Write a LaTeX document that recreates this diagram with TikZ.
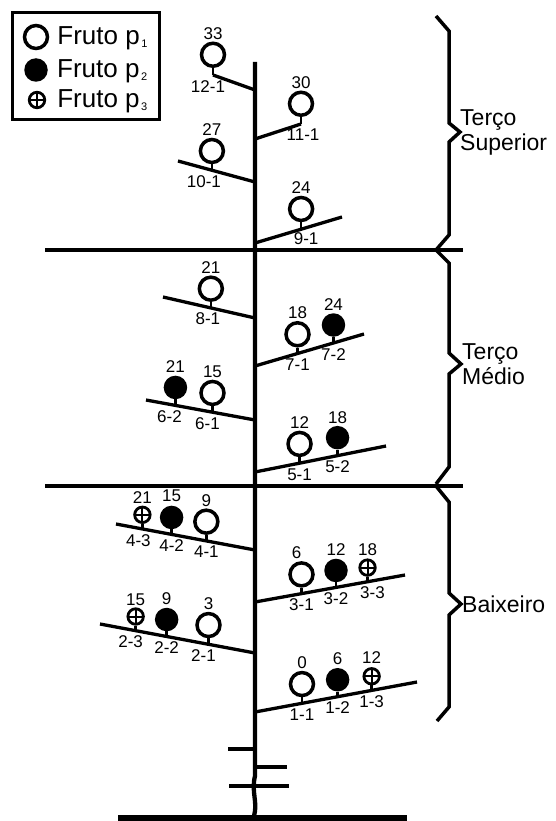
\documentclass[tikz,border=0pt]{standalone}
\usepackage{fontspec}
\setmainfont{Liberation Sans}
\usetikzlibrary{positioning, calc}
\newcommand{\lowsub}[1]{\hspace{1.5pt}\raisebox{-3pt}{\fontsize{11}{11}\selectfont #1}}
\tikzset{
  stem/.style={line width=4.3pt},
  branch/.style={line width=3.3pt},
  stalk/.style={line width=2.5pt},
  brace/.style={line width=3.5pt, line join=miter},
  pone/.style={
    circle,
    draw,
    line width=3.5pt,
    minimum size=23pt,
    inner sep=0pt
  },
  ptwo/.style={
    circle,
    fill,
    minimum size=23.5pt,
    inner sep=0pt
  },
  pthree/.style={
    circle,
    draw,
    line width=2.8pt,
    minimum size=15.5pt,
    inner sep=0pt,
    path picture={\draw[line width=2pt] (path picture bounding box.north) -- (path picture bounding box.south)
      (path picture bounding box.west) -- (path picture bounding box.east);}
  },
  num/.style={inner sep=0pt, font=\fontsize{17}{19}\selectfont},
  sect/.style={inner sep=0pt, align=left, font=\fontsize{23}{25}\selectfont},
  legtext/.style={inner sep=0pt, font=\fontsize{26}{28}\selectfont}
}

\begin{document}
\begin{tikzpicture}[x=1pt, y=-1pt]
        \useasboundingbox (0,0) rectangle (556,821);

        % legenda
        \node[draw, line width=3pt, minimum width=147pt, minimum height=107pt] (legend) at (86,66.5) {};
        \node[pone] (lg1) at (36,37) {};
        \node[ptwo] (lg2) at (36,70) {};
        \node[pthree] (lg3) at (37,100) {};
        \node[legtext, right=8pt of lg1, yshift=-1pt] {Fruto p\lowsub{1}};
        \node[legtext, right=9pt of lg2, yshift=-1pt] {Fruto p\lowsub{2}};
        \node[legtext, right=11pt of lg3, yshift=-1pt] {Fruto p\lowsub{3}};

        % planta
        \draw[stem] (255,62) -- (255,776) .. controls (251,792) and (258,802) .. (254,816);
        \draw[line width=6pt] (118,818) -- (407,818);
        \draw[branch] (228,749) -- (255,749);
        \draw[branch] (255,767) -- (287,767);
        \draw[branch] (229,786) -- (289,786);
        \draw[branch] (45,250) -- (463,250);
        \draw[branch] (45,486) -- (463,486);

        % chaves
        \draw[brace] (436,16) -- (449,31) -- (449,123) -- (460,132) -- (449,142) -- (449,235) -- (436,250);
        \draw[brace] (436,250) -- (449,263) -- (449,353) -- (461,364) -- (449,374) -- (449,467) -- (436,484);
        \draw[brace] (436,486) -- (449,502) -- (449,593) -- (461,604) -- (449,615) -- (449,707) -- (437,721);
        \coordinate (tip1) at (460,132);
        \coordinate (tip2) at (461,364);
        \coordinate (tip3) at (461,604);
        \node[sect, right=0pt of tip1] (sup) {Terço\\Superior};
        \node[sect, right=1pt of tip2] (med) {Terço\\Médio};
        \node[sect, right=1pt of tip3] (bai) {Baixeiro};

        % ramos
        \coordinate (b12l) at (213,75);  \coordinate (b12r) at (255,90);
        \coordinate (b11l) at (255,139); \coordinate (b11r) at (301,124);
        \coordinate (b10l) at (178,161); \coordinate (b10r) at (255,182);
        \coordinate (b9l) at (255,243);  \coordinate (b9r) at (342,217);
        \coordinate (b8l) at (163,297);  \coordinate (b8r) at (255,318);
        \coordinate (b7l) at (255,366);  \coordinate (b7r) at (364,334);
        \coordinate (b6l) at (146,400);  \coordinate (b6r) at (255,420);
        \coordinate (b5l) at (255,472);  \coordinate (b5r) at (386,446);
        \coordinate (b4l) at (116,524);  \coordinate (b4r) at (255,550);
        \coordinate (b3l) at (255,602);  \coordinate (b3r) at (405,575);
        \coordinate (b2l) at (100,624);  \coordinate (b2r) at (255,653);
        \coordinate (b1l) at (255,712);  \coordinate (b1r) at (417,682);
        \draw[branch] (b12l) -- (b12r);
        \draw[branch] (b11l) -- (b11r);
        \draw[branch] (b10l) -- (b10r);
        \draw[branch] (b9l) -- (b9r);
        \draw[branch] (b8l) -- (b8r);
        \draw[branch] (b7l) -- (b7r);
        \draw[branch] (b6l) -- (b6r);
        \draw[branch] (b5l) -- (b5r);
        \draw[branch] (b4l) -- (b4r);
        \draw[branch] (b3l) -- (b3r);
        \draw[branch] (b2l) -- (b2r);
        \draw[branch] (b1l) -- (b1r);

        % terco superior
        \coordinate (s121) at (b12l);
        \node[pone, above=7pt of s121] (f121) {};
        \draw[stalk] (f121) -- (s121);
        \node[num, above=2pt of f121] {33};
        \node[num, below=5pt of s121, xshift=-5pt] {12-1};

        \coordinate (s111) at (b11r);
        \node[pone, above=7pt of s111] (f111) {};
        \draw[stalk] (f111) -- (s111);
        \node[num, above=2pt of f111] {30};
        \node[num, below=5pt of s111, xshift=2pt] {11-1};

        \coordinate (s101) at ($(b10l)!0.44!(b10r)$);
        \node[pone, above=6pt of s101] (f101) {};
        \draw[stalk] (f101) -- (s101);
        \node[num, above=2pt of f101] {27};
        \node[num, below=5pt of s101, xshift=-8pt] {10-1};

        \coordinate (s91) at ($(b9l)!0.53!(b9r)$);
        \node[pone, above=7pt of s91] (f91) {};
        \draw[stalk] (f91) -- (s91);
        \node[num, above=2pt of f91] {24};
        \node[num, below=3pt of s91, xshift=5pt] {9-1};

        % terco medio
        \coordinate (s81) at ($(b8l)!0.52!(b8r)$);
        \node[pone, above=6pt of s81] (f81) {};
        \draw[stalk] (f81) -- (s81);
        \node[num, above=2pt of f81] {21};
        \node[num, below=5pt of s81, xshift=-3pt] {8-1};

        \coordinate (s71) at ($(b7l)!0.39!(b7r)$);
        \coordinate (s72) at ($(b7l)!0.72!(b7r)$);
        \node[pone, above=6pt of s71] (f71) {};
        \node[ptwo, above=6pt of s72] (f72) {};
        \draw[stalk] (f71) -- (s71);
        \draw[stalk] (f72) -- (s72);
        \node[num, above=2pt of f71] {18};
        \node[num, above=2pt of f72] {24};
        \node[num, below=5pt of s71] {7-1};
        \node[num, below=5pt of s72] {7-2};

        \coordinate (s62) at ($(b6l)!0.27!(b6r)$);
        \coordinate (s61) at ($(b6l)!0.61!(b6r)$);
        \node[ptwo, above=6pt of s62] (f62) {};
        \node[pone, above=6pt of s61] (f61) {};
        \draw[stalk] (f62) -- (s62);
        \draw[stalk] (f61) -- (s61);
        \node[num, above=3pt of f62] {21};
        \node[num, above=2pt of f61] {15};
        \node[num, below=5pt of s62, xshift=-6pt] {6-2};
        \node[num, below=5pt of s61, xshift=-5pt] {6-1};

        \coordinate (s51) at ($(b5l)!0.34!(b5r)$);
        \coordinate (s52) at ($(b5l)!0.63!(b5r)$);
        \node[pone, above=6pt of s51] (f51) {};
        \node[ptwo, above=6pt of s52] (f52) {};
        \draw[stalk] (f51) -- (s51);
        \draw[stalk] (f52) -- (s52);
        \node[num, above=2pt of f51] {12};
        \node[num, above=2pt of f52] {18};
        \node[num, below=5pt of s51] {5-1};
        \node[num, below=5pt of s52] {5-2};

        % baixeiro
        \coordinate (s43) at ($(b4l)!0.19!(b4r)$);
        \coordinate (s42) at ($(b4l)!0.40!(b4r)$);
        \coordinate (s41) at ($(b4l)!0.65!(b4r)$);
        \node[pthree, above=5pt of s43] (f43) {};
        \node[ptwo, above=5pt of s42] (f42) {};
        \node[pone, above=6pt of s41] (f41) {};
        \draw[stalk] (f43) -- (s43);
        \draw[stalk] (f42) -- (s42);
        \draw[stalk] (f41) -- (s41);
        \node[num, above=2pt of f43] {21};
        \node[num, above=4pt of f42] {15};
        \node[num, above=2pt of f41] {9};
        \node[num, below=5pt of s43, xshift=-4pt] {4-3};
        \node[num, below=5pt of s42] {4-2};
        \node[num, below=5pt of s41] {4-1};

        \coordinate (s31) at ($(b3l)!0.31!(b3r)$);
        \coordinate (s32) at ($(b3l)!0.54!(b3r)$);
        \coordinate (s33) at ($(b3l)!0.75!(b3r)$);
        \node[pone, above=6pt of s31] (f31) {};
        \node[ptwo, above=5pt of s32] (f32) {};
        \node[pthree, above=5pt of s33] (f33) {};
        \draw[stalk] (f31) -- (s31);
        \draw[stalk] (f32) -- (s32);
        \draw[stalk] (f33) -- (s33);
        \node[num, above=2pt of f31, xshift=-5pt] {6};
        \node[num, above=3pt of f32] {12};
        \node[num, above=3pt of f33] {18};
        \node[num, below=5pt of s31] {3-1};
        \node[num, below=5pt of s32] {3-2};
        \node[num, below=5pt of s33, xshift=5pt] {3-3};

        \coordinate (s23) at ($(b2l)!0.23!(b2r)$);
        \coordinate (s22) at ($(b2l)!0.43!(b2r)$);
        \coordinate (s21) at ($(b2l)!0.70!(b2r)$);
        \node[pthree, above=5pt of s23] (f23) {};
        \node[ptwo, above=5pt of s22] (f22) {};
        \node[pone, above=6pt of s21] (f21) {};
        \draw[stalk] (f23) -- (s23);
        \draw[stalk] (f22) -- (s22);
        \draw[stalk] (f21) -- (s21);
        \node[num, above=2pt of f23] {15};
        \node[num, above=3pt of f22] {9};
        \node[num, above=2pt of f21] {3};
        \node[num, below=5pt of s23, xshift=-5pt] {2-3};
        \node[num, below=5pt of s22] {2-2};
        \node[num, below=5pt of s21, xshift=-5pt] {2-1};

        \coordinate (s11) at ($(b1l)!0.29!(b1r)$);
        \coordinate (s12) at ($(b1l)!0.51!(b1r)$);
        \coordinate (s13) at ($(b1l)!0.72!(b1r)$);
        \node[pone, above=6pt of s11] (f11) {};
        \node[ptwo, above=5pt of s12] (f12) {};
        \node[pthree, above=5pt of s13] (f13) {};
        \draw[stalk] (f11) -- (s11);
        \draw[stalk] (f12) -- (s12);
        \draw[stalk] (f13) -- (s13);
        \node[num, above=2pt of f11] {0};
        \node[num, above=3pt of f12] {6};
        \node[num, above=3pt of f13] {12};
        \node[num, below=5pt of s11] {1-1};
        \node[num, below=5pt of s12] {1-2};
        \node[num, below=5pt of s13] {1-3};
      \end{tikzpicture}
\end{document}
